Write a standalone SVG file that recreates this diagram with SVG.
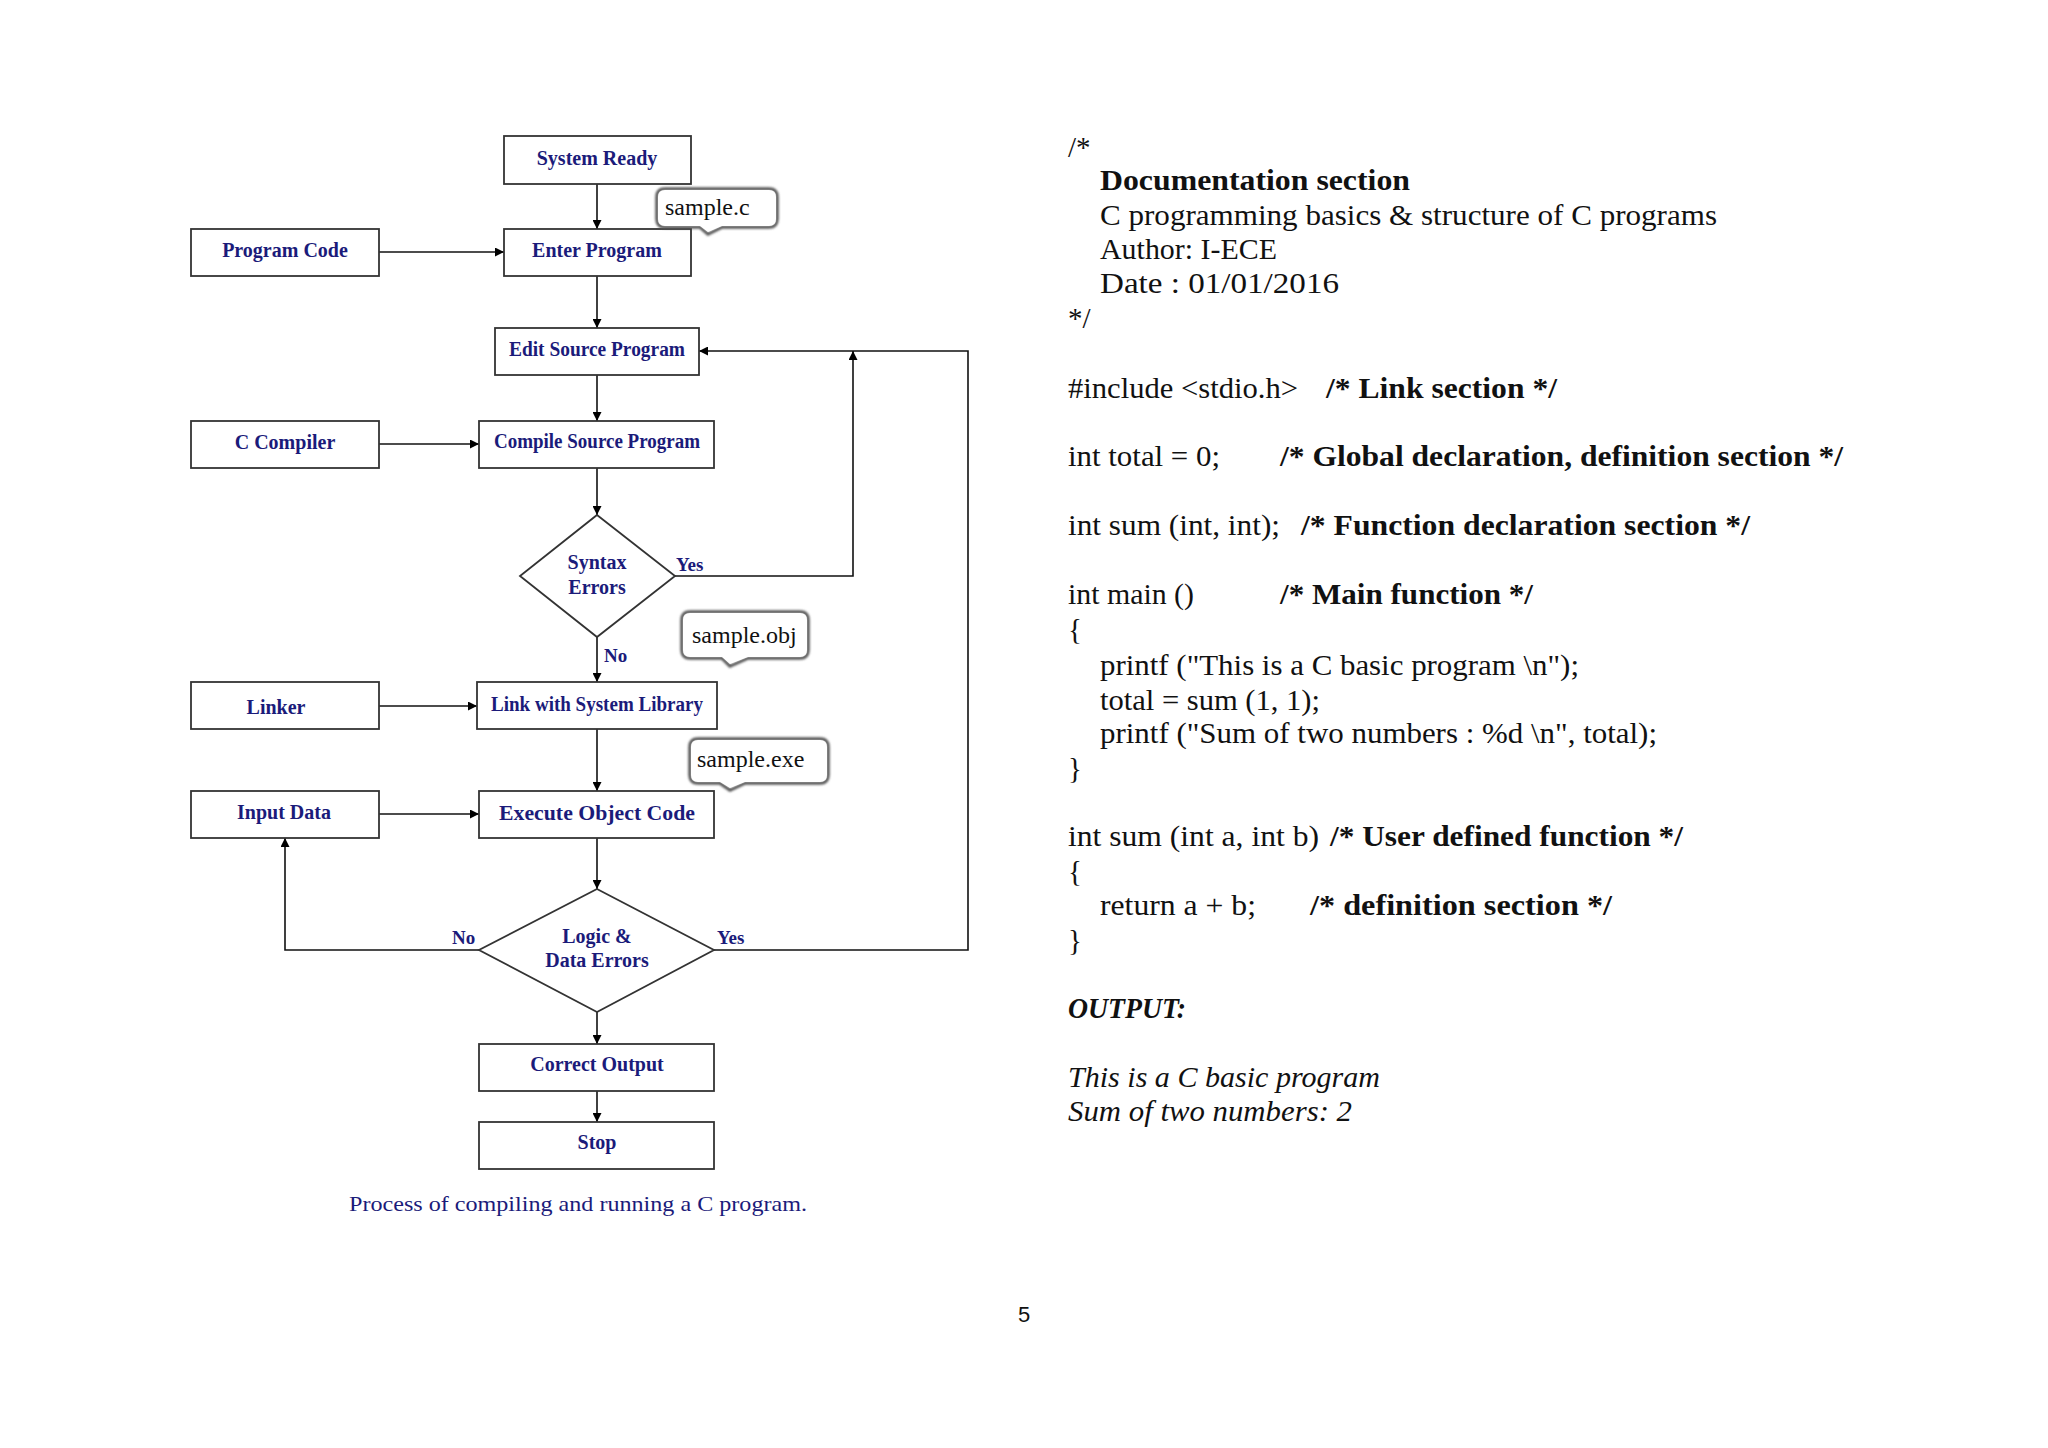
<svg xmlns="http://www.w3.org/2000/svg" width="2048" height="1448" viewBox="0 0 2048 1448">
<defs>
<marker id="ah" viewBox="0 0 10 10" refX="10" refY="5" markerWidth="9" markerHeight="9" orient="auto-start-reverse" markerUnits="userSpaceOnUse">
<path d="M0,0 L10,5 L0,10 z" fill="#000"/>
</marker>
<filter id="sh" x="-20%" y="-30%" width="140%" height="160%">
<feGaussianBlur stdDeviation="1.2"/>
</filter>
<style>
.box{fill:#fff;stroke:#333;stroke-width:1.8}
.lbl{font-family:"Liberation Serif",serif;font-weight:bold;font-size:20px;fill:#1b1b7a;text-anchor:middle}
.yn{font-family:"Liberation Serif",serif;font-weight:bold;font-size:19px;fill:#1b1b7a}
.con{fill:none;stroke:#111;stroke-width:1.6}
.call{fill:#fff;stroke:#555;stroke-width:3.5}
.ctxt{font-family:"Liberation Serif",serif;font-size:24px;fill:#111}
.code{font-family:"Liberation Serif",serif;font-size:29px;fill:#111}
.cb{font-family:"Liberation Serif",serif;font-size:29px;font-weight:bold;fill:#111}
.it{font-family:"Liberation Serif",serif;font-size:29px;font-style:italic;fill:#111}
</style>
</defs>
<rect width="2048" height="1448" fill="#fff"/>

<g id="connectors">
<line class="con" x1="597" y1="184" x2="597" y2="229" marker-end="url(#ah)"/>
<line class="con" x1="379" y1="252" x2="504" y2="252" marker-end="url(#ah)"/>
<line class="con" x1="597" y1="276" x2="597" y2="328" marker-end="url(#ah)"/>
<line class="con" x1="597" y1="375" x2="597" y2="421" marker-end="url(#ah)"/>
<line class="con" x1="379" y1="444" x2="479" y2="444" marker-end="url(#ah)"/>
<line class="con" x1="597" y1="468" x2="597" y2="515" marker-end="url(#ah)"/>
<polyline class="con" points="675,576 853,576 853,351" marker-end="url(#ah)"/>
<line class="con" x1="597" y1="637" x2="597" y2="682" marker-end="url(#ah)"/>
<line class="con" x1="379" y1="706" x2="477" y2="706" marker-end="url(#ah)"/>
<line class="con" x1="597" y1="729" x2="597" y2="791" marker-end="url(#ah)"/>
<line class="con" x1="379" y1="814" x2="479" y2="814" marker-end="url(#ah)"/>
<line class="con" x1="597" y1="838" x2="597" y2="889" marker-end="url(#ah)"/>
<polyline class="con" points="479,950 285,950 285,838" marker-end="url(#ah)"/>
<polyline class="con" points="714,950 968,950 968,351 699,351" marker-end="url(#ah)"/>
<line class="con" x1="597" y1="1012" x2="597" y2="1044" marker-end="url(#ah)"/>
<line class="con" x1="597" y1="1091" x2="597" y2="1122" marker-end="url(#ah)"/>
<text class="yn" x="676" y="571">Yes</text>
<text class="yn" x="604" y="662">No</text>
<text class="yn" x="452" y="944">No</text>
<text class="yn" x="717" y="944">Yes</text>
</g>

<g id="system-ready"><rect class="box" x="504" y="136" width="187" height="48"/><text class="lbl" x="597" y="165">System Ready</text></g>
<g id="program-code"><rect class="box" x="191" y="229" width="188" height="47"/><text class="lbl" x="285" y="257">Program Code</text></g>
<g id="enter-program"><rect class="box" x="504" y="229" width="187" height="47"/><text class="lbl" x="597" y="257">Enter Program</text></g>
<g id="edit-source"><rect class="box" x="495" y="328" width="204" height="47"/><text class="lbl" x="597" y="356" textLength="176" lengthAdjust="spacingAndGlyphs">Edit Source Program</text></g>
<g id="c-compiler"><rect class="box" x="191" y="421" width="188" height="47"/><text class="lbl" x="285" y="449">C Compiler</text></g>
<g id="compile-source"><rect class="box" x="479" y="421" width="235" height="47"/><text class="lbl" x="597" y="448" textLength="206" lengthAdjust="spacingAndGlyphs">Compile Source Program</text></g>
<g id="syntax-errors"><polygon class="box" points="597,515 675,576 597,637 520,576"/><text class="lbl" x="597" y="569">Syntax</text><text class="lbl" x="597" y="594">Errors</text></g>
<g id="linker"><rect class="box" x="191" y="682" width="188" height="47"/><text class="lbl" x="276" y="714">Linker</text></g>
<g id="link-library"><rect class="box" x="477" y="682" width="240" height="47"/><text class="lbl" x="597" y="711" textLength="212" lengthAdjust="spacingAndGlyphs">Link with System Library</text></g>
<g id="input-data"><rect class="box" x="191" y="791" width="188" height="47"/><text class="lbl" x="284" y="819">Input Data</text></g>
<g id="execute-object"><rect class="box" x="479" y="791" width="235" height="47"/><text class="lbl" x="597" y="820" textLength="196" lengthAdjust="spacingAndGlyphs">Execute Object Code</text></g>
<g id="logic-errors"><polygon class="box" points="597,889 714,950 597,1012 479,950"/><text class="lbl" x="597" y="943">Logic &amp;</text><text class="lbl" x="597" y="967">Data Errors</text></g>
<g id="correct-output"><rect class="box" x="479" y="1044" width="235" height="47"/><text class="lbl" x="597" y="1071">Correct Output</text></g>
<g id="stop"><rect class="box" x="479" y="1122" width="235" height="47"/><text class="lbl" x="597" y="1149">Stop</text></g>

<g id="callout-sample-c">
<path class="call" filter="url(#sh)" d="M665,189 H769 Q777,189 777,197 V219 Q777,227 769,227 H722 L708,234 L700,227 H665 Q657,227 657,219 V197 Q657,189 665,189 Z"/>
<path fill="#fff" d="M665,190 H769 Q776,190 776,197 V219 Q776,226 769,226 H722 L708,232 L700,226 H665 Q658,226 658,219 V197 Q658,190 665,190 Z"/>
<text class="ctxt" x="665" y="215">sample.c</text>
</g>
<g id="callout-sample-obj">
<path class="call" filter="url(#sh)" d="M690,612 H800 Q808,612 808,620 V650 Q808,658 800,658 H748 L730,666 L722,658 H690 Q682,658 682,650 V620 Q682,612 690,612 Z"/>
<path fill="#fff" d="M690,613 H800 Q807,613 807,620 V650 Q807,657 800,657 H748 L730,664 L722,657 H690 Q683,657 683,650 V620 Q683,613 690,613 Z"/>
<text class="ctxt" x="692" y="643">sample.obj</text>
</g>
<g id="callout-sample-exe">
<path class="call" filter="url(#sh)" d="M698,739 H820 Q828,739 828,747 V775 Q828,783 820,783 H745 L730,790 L720,783 H698 Q690,783 690,775 V747 Q690,739 698,739 Z"/>
<path fill="#fff" d="M698,740 H820 Q827,740 827,747 V775 Q827,782 820,782 H745 L730,788 L720,782 H698 Q691,782 691,775 V747 Q691,740 698,740 Z"/>
<text class="ctxt" x="697" y="767">sample.exe</text>
</g>

<text id="caption" x="349" y="1211" font-family="'Liberation Serif',serif" font-size="21" fill="#1b1b7a" textLength="458" lengthAdjust="spacingAndGlyphs">Process of compiling and running a C program.</text>

<g id="code">
<text class="code" x="1068" y="157">/*</text>
<text class="cb" x="1100" y="190" textLength="310" lengthAdjust="spacingAndGlyphs">Documentation section</text>
<text class="code" x="1100" y="225" textLength="617" lengthAdjust="spacingAndGlyphs">C programming basics &amp; structure of C programs</text>
<text class="code" x="1100" y="259" textLength="177" lengthAdjust="spacingAndGlyphs">Author: I-ECE</text>
<text class="code" x="1100" y="293" textLength="239" lengthAdjust="spacingAndGlyphs">Date : 01/01/2016</text>
<text class="code" x="1068" y="328">*/</text>
<text class="code" x="1068" y="398" textLength="230" lengthAdjust="spacingAndGlyphs">#include &lt;stdio.h&gt;</text>
<text class="cb" x="1326" y="398" textLength="231" lengthAdjust="spacingAndGlyphs">/* Link section */</text>
<text class="code" x="1068" y="466" textLength="152" lengthAdjust="spacingAndGlyphs">int total = 0;</text>
<text class="cb" x="1280" y="466" textLength="563" lengthAdjust="spacingAndGlyphs">/* Global declaration, definition section */</text>
<text class="code" x="1068" y="535" textLength="212" lengthAdjust="spacingAndGlyphs">int sum (int, int);</text>
<text class="cb" x="1301" y="535" textLength="449" lengthAdjust="spacingAndGlyphs">/* Function declaration section */</text>
<text class="code" x="1068" y="604" textLength="126" lengthAdjust="spacingAndGlyphs">int main ()</text>
<text class="cb" x="1280" y="604" textLength="253" lengthAdjust="spacingAndGlyphs">/* Main function */</text>
<text class="code" x="1068" y="639">{</text>
<text class="code" x="1100" y="675" textLength="479" lengthAdjust="spacingAndGlyphs">printf ("This is a C basic program \n");</text>
<text class="code" x="1100" y="710" textLength="220" lengthAdjust="spacingAndGlyphs">total = sum (1, 1);</text>
<text class="code" x="1100" y="743" textLength="557" lengthAdjust="spacingAndGlyphs">printf ("Sum of two numbers : %d \n", total);</text>
<text class="code" x="1068" y="778">}</text>
<text class="code" x="1068" y="846" textLength="251" lengthAdjust="spacingAndGlyphs">int sum (int a, int b)</text>
<text class="cb" x="1330" y="846" textLength="353" lengthAdjust="spacingAndGlyphs">/* User defined function */</text>
<text class="code" x="1068" y="881">{</text>
<text class="code" x="1100" y="915" textLength="156" lengthAdjust="spacingAndGlyphs">return a + b;</text>
<text class="cb" x="1310" y="915" textLength="302" lengthAdjust="spacingAndGlyphs">/* definition section */</text>
<text class="code" x="1068" y="950">}</text>
<text class="cb" x="1068" y="1018" font-style="italic" textLength="118" lengthAdjust="spacingAndGlyphs">OUTPUT:</text>
<text class="it" x="1068" y="1087" textLength="312" lengthAdjust="spacingAndGlyphs">This is a C basic program</text>
<text class="it" x="1068" y="1121" textLength="284" lengthAdjust="spacingAndGlyphs">Sum of two numbers: 2</text>
</g>

<text id="page-number" x="1024" y="1322" font-family="'Liberation Sans',sans-serif" font-size="22" fill="#111" text-anchor="middle">5</text>
</svg>
